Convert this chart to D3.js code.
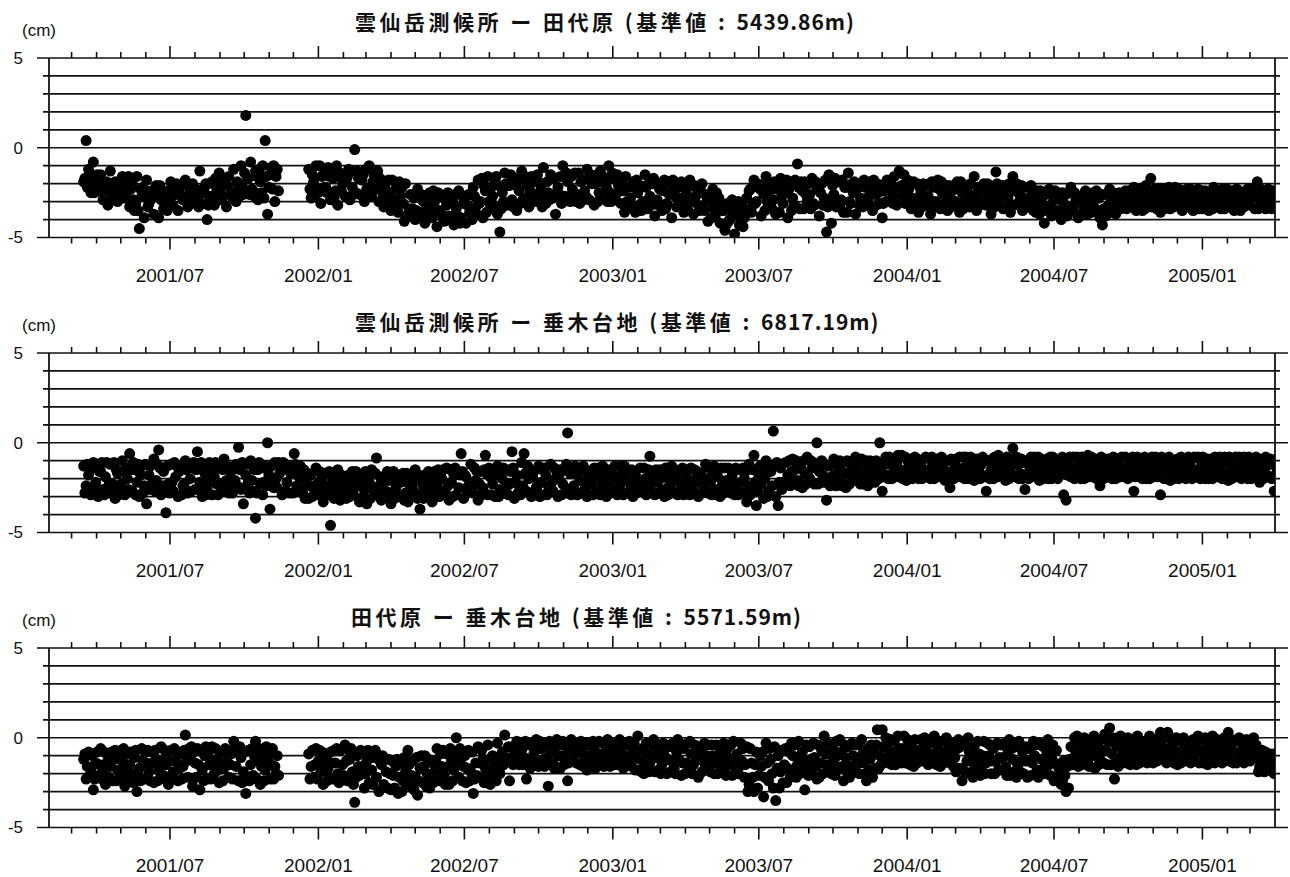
<!DOCTYPE html>
<html>
<head>
<meta charset="utf-8">
<script src="https://cdn.jsdelivr.net/npm/d3@7"></script>
<style>
  body { margin: 0; background: #fff; }
  svg { display: block; }
  text { font-family: 'Liberation Sans', Arial, sans-serif; fill: #111; }
  .title { font-family: 'Noto Sans CJK JP', sans-serif; font-weight: bold; }
</style>
</head>
<body>
<div id="chart"></div>
<script>
// 基線長変化 (cm)。a: 2001/03/16 から 3 日ごと、b: その 1.5 日後
const titleNames = ['雲仙岳測候所 ー 田代原', '雲仙岳測候所 ー 垂木台地', '田代原 ー 垂木台地'];
const baseLengths = ['5439.86m', '6817.19m', '5571.59m'];
const startDate = new Date(2001, 2, 16);
const stepDays = 3;

const unzenTashiroA = [
  -1.9, 0.4, -1.2, -2.5, -0.8, -1.7, -2.3, -1.5, -2.9, -2.0,
  -3.2, -1.3, -2.6, -1.9, -3.0, -2.2, -1.6, -2.8, -2.4, -3.3,
  -2.0, -3.5, -1.6, -4.5, -2.7, -3.9, -1.8, -3.1, -2.4, -3.7,
  -2.1, -3.9, -2.9, -3.4, -2.6, -2.4, -1.9, -3.2, -2.6, -3.5,
  -2.1, -2.9, -1.8, -3.3, -2.5, -2.0, -3.0, -2.6, -1.3, -3.1,
  -2.2, -4.0, -2.7, -1.9, -3.2, -2.4, -1.4, -2.9, -2.0, -3.3,
  -1.6, -2.6, -1.2, -3.0, -2.2, -1.0, -2.6, 1.8, -1.7, -0.8,
  -2.4, -1.3, -2.9, -1.9, -1.0, 0.4, -3.7, -1.5, -2.3, -3.0,
  -1.2, null, null, null, null, null, null, null, null, null,
  null, null, null, -1.2, -2.8, -1.9, -1.0, -2.5, -3.1, -1.5,
  -2.2, -1.1, -2.9, -1.7, -2.4, -3.2, -1.4, -2.0, -2.7, -1.6,
  -2.9, -2.2, -0.1, -1.3, -2.6, -1.8, -3.0, -2.3, -1.0, -2.7,
  -1.5, -2.1, -3.0, -2.0, -3.3, -2.6, -1.8, -3.5, -2.9, -2.3,
  -3.6, -2.7, -3.1, -2.0, -3.8, -2.6, -3.4, -4.0, -2.3, -3.6,
  -2.9, -4.2, -3.3, -2.5, -3.9, -3.0, -4.4, -3.5, -2.7, -4.1,
  -3.2, -3.8, -2.8, -4.3, -3.4, -2.4, -3.9, -3.1, -4.2, -2.6,
  -3.6, -2.2, -3.3, -1.8, -3.0, -3.9, -2.4, -1.6, -3.4, -2.7,
  -2.0, -3.7, -4.7, -2.5, -1.4, -3.2, -2.1, -2.9, -1.7, -3.5,
  -2.4, -1.3, -2.8, -2.0, -3.3, -1.6, -2.6, -3.0, -1.9, -2.3,
  -1.1, -3.1, -2.5, -1.5, -2.8, -3.7, -2.2, -1.6, -1.0, -2.7,
  -1.9, -3.0, -2.3, -1.4, -2.6, -3.1, -1.8, -2.4, -1.2, -2.9,
  -2.0, -3.2, -1.5, -2.5, -1.9, -2.8, -2.2, -1.0, -3.0, -1.7,
  -2.6, -2.1, -3.1, -2.4, -1.6, -3.3, -2.8, -1.9, -3.6, -2.5,
  -2.1, -3.0, -1.5, -3.4, -2.7, -2.0, -3.8, -2.9, -2.3, -3.5,
  -1.8, -3.1, -2.6, -3.9, -2.2, -3.3, -2.8, -1.9, -3.6, -2.5,
  -3.0, -2.1, -3.7, -2.7, -3.2, -2.4, -3.4, -2.6, -4.1, -3.0,
  -2.3, -3.8, -2.9, -4.2, -3.5, -4.6, -3.1, -4.0, -2.9, -4.8,
  -3.6, -4.3, -3.2, -3.9, -2.8, -2.4, -3.6, -1.8, -3.0, -2.2,
  -3.8, -2.6, -1.6, -3.3, -2.0, -2.9, -3.7, -2.3, -1.7, -3.1,
  -2.5, -3.9, -2.1, -2.8, -1.8, -0.9, -3.4, -2.4, -1.9, -3.0,
  -2.6, -1.7, -3.2, -2.3, -3.8, -2.0, -2.8, -4.7, -1.5, -4.2,
  -2.6, -3.3, -1.9, -2.9, -3.6, -2.2, -1.4, -3.1, -2.5, -3.7,
  -2.0, -2.8, -3.3, -2.2, -2.9, -1.9, -3.5, -2.6, -2.0, -3.1,
  -3.9, -2.4, -1.8, -3.0, -2.5, -1.6, -3.2, -1.3, -2.1, -1.5,
  -2.8, -2.3, -3.4, -1.9, -2.9, -3.6, -2.5, -2.0, -3.2, -2.7,
  -3.7, -2.2, -3.0, -1.8, -3.4, -2.6, -2.1, -3.5, -2.8, -2.4,
  -3.1, -1.9, -3.6, -2.5, -3.0, -2.2, -3.3, -2.7, -1.6, -3.5,
  -2.4, -2.9, -2.0, -3.2, -2.6, -3.7, -2.3, -1.35, -3.0, -2.5,
  -3.4, -2.1, -2.8, -3.6, -1.6, -2.4, -3.1, -2.7, -3.5, -2.2,
  -2.9, -3.3, -2.6, -3.0, -2.4, -3.7, -2.8, -4.2, -3.3, -2.3,
  -3.8, -2.9, -3.5, -2.5, -4.0, -3.1, -2.6, -3.6, -2.2, -3.4,
  -2.9, -3.9, -2.7, -3.2, -2.4, -3.7, -3.0, -2.5, -3.5, -2.8,
  -3.9, -4.3, -2.6, -3.3, -2.3, -3.6, -2.9, -3.4, -2.5, -3.1,
  -2.7, -3.4, -2.4, -3.0, -2.2, -3.5, -2.8, -3.2, -2.5, -2.1,
  -3.3, -1.7, -2.6, -3.0, -2.3, -3.6, -2.7, -3.1, -2.4, -3.4,
  -2.9, -2.2, -3.2, -2.6, -3.5, -2.8, -2.3, -3.3, -2.5, -3.0,
  -2.7, -3.4, -2.4, -3.1, -2.8, -3.5, -2.6, -2.2, -3.2, -2.9,
  -3.4, -2.5, -3.0, -2.7, -3.3, -2.4, -3.1, -2.8, -3.5, -2.6,
  -3.0, -2.3, -3.2, -2.7, -3.4, -1.9, -2.9, -3.3, -2.5, -3.1,
  -2.7, -3.4, -2.6, -3.0,
];
const unzenTashiroB = [
  -1.7, -2.2, -1.7, -2.0, -2.5, -1.5, -2.1, -2.4, -2.1, -1.9,
  -2.4, -2.8, -2.4, -2.1, -1.9, -2.8, -2.4, -1.9, -1.6, -2.3,
  -2.9, -3.1, -3.5, -2.3, -2.2, -2.7, -3.3, -2.9, -2.5, -2.7,
  -2.5, -2.1, -2.8, -3.0, -3.5, -3.2, -2.7, -2.2, -2.0, -2.3,
  -2.7, -2.9, -2.7, -2.2, -3.1, -2.7, -2.3, -3.3, -3.1, -2.5,
  -2.0, -3.2, -3.0, -2.0, -1.7, -2.8, -2.5, -2.1, -1.8, -2.1,
  -2.6, -2.8, -2.5, -1.9, -2.7, -2.0, -1.4, -2.4, -2.6, -2.3,
  -2.7, -1.6, -1.2, -2.5, -2.8, -1.6, -2.2, -1.1, -1.0, -1.6,
  -2.4, null, null, null, null, null, null, null, null, null,
  null, null, null, -2.3, -1.5, -2.7, -2.3, -1.0, -1.6, -2.2,
  -2.5, -1.6, -1.4, -2.8, -1.0, -1.6, -2.4, -1.5, -1.8, -1.2,
  -1.3, -2.6, -2.5, -1.7, -1.7, -1.5, -1.2, -2.5, -2.2, -1.9,
  -2.3, -1.3, -1.7, -2.5, -2.1, -3.1, -2.5, -1.8, -3.3, -2.1,
  -1.9, -2.2, -4.1, -3.8, -3.4, -3.7, -2.8, -3.5, -3.8, -2.6,
  -3.0, -2.7, -3.8, -3.5, -2.4, -2.8, -2.5, -3.6, -3.9, -2.9,
  -2.5, -4.0, -3.0, -2.6, -3.8, -4.2, -2.7, -2.9, -3.2, -3.6,
  -4.0, -2.7, -3.7, -3.1, -1.7, -2.1, -3.6, -3.0, -2.2, -3.2,
  -1.6, -2.1, -3.4, -3.0, -2.0, -2.1, -1.5, -3.3, -2.1, -1.7,
  -3.1, -2.9, -1.6, -2.1, -2.4, -2.8, -1.9, -1.5, -2.8, -3.3,
  -2.8, -1.9, -2.9, -2.7, -1.7, -2.5, -2.6, -3.1, -2.7, -1.4,
  -1.5, -1.6, -2.7, -3.0, -1.4, -1.9, -2.9, -2.7, -1.7, -1.5,
  -1.7, -2.0, -3.0, -1.3, -1.6, -1.8, -3.0, -2.5, -1.4, -2.9,
  -1.5, -1.7, -2.0, -3.6, -3.0, -2.2, -3.2, -2.2, -1.8, -3.2,
  -3.5, -3.3, -2.2, -2.0, -3.2, -1.7, -1.9, -3.2, -2.0, -2.4,
  -3.4, -1.9, -2.0, -1.8, -2.7, -2.2, -3.2, -3.0, -2.1, -3.4,
  -1.8, -3.0, -2.1, -2.3, -3.5, -2.0, -3.5, -3.0, -2.7, -3.9,
  -3.4, -2.5, -2.8, -3.1, -3.5, -4.3, -4.1, -3.3, -3.7, -3.3,
  -3.0, -4.0, -4.4, -3.7, -3.5, -2.3, -3.2, -3.1, -2.0, -2.3,
  -2.1, -3.5, -3.0, -2.4, -3.4, -1.9, -2.3, -3.6, -2.7, -2.0,
  -1.8, -2.3, -3.5, -3.2, -3.3, -2.2, -1.9, -3.4, -2.6, -2.0,
  -3.4, -3.1, -1.9, -2.0, -2.5, -3.2, -1.8, -3.3, -2.9, -2.1,
  -1.7, -3.0, -3.3, -1.8, -2.2, -3.6, -3.0, -2.0, -1.9, -2.3,
  -3.2, -2.0, -1.8, -3.1, -2.7, -2.2, -1.8, -3.2, -2.5, -2.1,
  -3.1, -3.0, -2.2, -1.9, -3.1, -2.2, -2.8, -3.0, -2.6, -3.1,
  -1.8, -2.0, -2.8, -3.1, -2.0, -2.2, -3.3, -2.9, -2.1, -2.0,
  -1.9, -3.3, -3.1, -2.3, -1.9, -3.2, -3.0, -2.1, -3.3, -2.1,
  -3.0, -2.2, -1.9, -3.4, -3.2, -2.5, -2.0, -3.2, -2.9, -2.2,
  -3.2, -3.0, -2.3, -2.0, -2.1, -2.8, -3.3, -2.0, -2.3, -2.1,
  -2.6, -3.3, -2.0, -2.3, -3.2, -2.0, -2.2, -2.1, -2.8, -3.3,
  -2.2, -2.1, -3.5, -3.6, -3.2, -2.4, -3.5, -2.6, -3.5, -3.2,
  -2.7, -2.4, -3.7, -2.9, -2.5, -3.4, -3.8, -3.3, -3.5, -2.5,
  -2.7, -2.8, -3.7, -3.5, -3.1, -2.6, -3.6, -3.3, -2.4, -2.8,
  -2.6, -3.4, -3.8, -3.5, -3.0, -2.5, -3.7, -3.3, -3.4, -3.3,
  -2.4, -3.2, -3.3, -3.2, -2.6, -2.4, -2.3, -3.5, -3.4, -3.0,
  -2.5, -3.3, -2.3, -3.4, -2.5, -2.3, -3.4, -3.0, -2.2, -2.5,
  -3.3, -2.8, -2.3, -2.4, -2.5, -3.3, -2.7, -2.3, -3.5, -2.4,
  -2.3, -3.0, -3.4, -2.4, -2.5, -2.9, -3.4, -3.0, -2.4, -2.5,
  -2.3, -3.4, -2.3, -2.5, -3.1, -3.5, -2.3, -2.4, -3.0, -3.3,
  -3.1, -2.5, -2.3, -2.6, -2.5, -3.4, -2.3, -2.6, -3.4, -2.3,
  -2.5, -2.4, -3.3, -2.5,
];

const unzenTarukiA = [
  -1.3, -2.4, -1.8, -2.9, -1.1, -2.2, -3.0, -1.6, -2.6, -1.9,
  -2.8, -1.2, -2.3, -3.1, -1.7, -2.5, -1.0, -2.9, -2.0, -0.6,
  -2.7, -1.5, -2.2, -3.0, -1.3, -2.4, -3.4, -1.8, -2.6, -0.9,
  -2.1, -0.4, -2.9, -1.6, -3.9, -2.3, -1.2, -2.7, -1.9, -3.0,
  -1.5, -2.4, -1.0, -2.8, -2.0, -1.4, -2.6, -0.5, -2.2, -3.0,
  -1.7, -2.5, -1.1, -2.9, -1.9, -2.3, -1.4, -2.7, -0.9, -2.1,
  -2.8, -1.6, -2.4, -1.2, -0.25, -2.6, -3.4, -1.8, -2.2, -1.0,
  -2.7, -4.2, -1.5, -2.3, -2.9, -1.3, 0.0, -3.7, -2.0, -1.1,
  -2.5, -1.7, -2.9, -1.4, -2.2, -2.8, -1.6, -0.6, -2.4, -1.9,
  -2.7, -1.5, -2.2, -3.1, -1.8, -2.5, -1.4, -2.9, -2.1, -3.3,
  -1.7, -2.4, -4.6, -2.0, -2.8, -1.5, -3.2, -2.3, -1.9, -2.7,
  -3.0, -1.6, -2.5, -2.1, -3.3, -1.8, -2.6, -3.4, -2.2, -1.5,
  -2.9, -0.85, -2.4, -3.2, -1.9, -2.7, -2.1, -3.4, -1.6, -2.5,
  -3.0, -2.2, -1.7, -2.8, -3.3, -2.0, -2.6, -1.5, -3.1, -3.7,
  -2.3, -1.8, -2.9, -2.5, -3.3, -1.6, -2.4, -3.0, -2.0, -2.7,
  -1.4, -3.2, -2.2, -1.8, -2.9, -2.5, -0.6, -3.1, -1.9, -2.4,
  -1.2, -2.8, -2.1, -3.2, -1.6, -2.5, -0.7, -2.9, -1.9, -2.3,
  -3.0, -1.3, -2.6, -2.0, -2.8, -1.5, -2.3, -0.5, -3.1, -1.8,
  -2.4, -1.1, -0.6, -2.7, -2.0, -3.0, -1.6, -2.5, -1.3, -2.2,
  -2.9, -1.8, -2.4, -1.2, -2.7, -2.0, -3.0, -1.5, -2.3, -2.8,
  0.55, -1.7, -2.5, -1.3, -2.9, -2.1, -1.6, -2.6, -3.0, -1.9,
  -2.3, -1.4, -2.8, -2.0, -2.5, -1.7, -3.0, -2.2, -1.5, -2.7,
  -1.9, -2.4, -1.3, -2.9, -2.1, -1.6, -2.6, -3.0, -1.8, -2.3,
  -1.4, -2.7, -2.0, -2.5, -0.75, -1.7, -2.9, -2.2, -1.5, -2.6,
  -3.0, -1.9, -2.4, -1.3, -2.8, -2.1, -1.6, -2.5, -2.9, -1.8,
  -2.3, -1.4, -2.7, -2.0, -3.0, -1.7, -2.4, -1.2, -2.8, -2.2,
  -1.6, -2.6, -1.9, -3.0, -2.3, -1.4, -2.7, -2.1, -1.8, -2.9,
  -2.4, -1.5, -2.8, -2.0, -3.3, -1.2, -2.6, -0.7, -3.5, -1.9,
  -2.3, -3.1, -1.0, -2.7, -1.6, 0.65, -3.0, -3.5, -1.4, -2.2,
  -1.1, -1.8, -2.4, -0.9, -1.5, -2.1, -1.2, -2.5, -1.7, -0.8,
  -2.0, -1.4, -2.3, 0.0, -1.6, -1.0, -2.2, -3.2, -1.3, -1.9,
  -0.9, -2.4, -1.5, -2.0, -1.1, -2.5, -1.7, -1.2, -2.1, -0.8,
  -1.6, -2.3, -1.3, -1.9, -2.4, -1.0, -1.7, -2.2, -1.4, 0.0,
  -2.7, -1.2, -1.8, -0.8, -2.0, -1.5, -1.1, -1.9, -0.7, -1.6,
  -2.1, -1.3, -0.9, -1.8, -1.4, -2.0, -1.1, -1.7, -0.8, -1.5,
  -2.0, -1.2, -1.6, -0.9, -1.9, -1.4, -2.1, -1.0, -2.5, -1.6,
  -1.3, -1.9, -0.8, -1.5, -2.0, -1.1, -1.7, -1.4, -2.1, -0.9,
  -1.6, -1.2, -1.9, -2.7, -1.0, -1.5, -2.0, -1.3, -0.7, -1.8,
  -1.4, -2.1, -1.1, -1.6, -0.3, -1.9, -1.2, -1.7, -2.0, -2.6,
  -1.0, -1.5, -1.8, -0.8, -1.4, -2.1, -1.2, -1.7, -0.9, -1.6,
  -2.0, -1.3, -1.8, -1.0, -1.5, -2.9, -3.2, -1.2, -1.9, -0.8,
  -1.6, -1.3, -2.0, -1.1, -1.7, -0.7, -1.4, -1.9, -1.0, -1.6,
  -2.4, -1.2, -1.8, -0.9, -1.5, -2.0, -1.1, -1.7, -1.3, -0.8,
  -1.9, -1.4, -1.0, -1.6, -2.7, -1.2, -1.8, -0.9, -1.5, -2.0,
  -1.1, -1.7, -1.3, -0.8, -1.9, -2.9, -1.4, -1.0, -1.6, -2.1,
  -1.2, -1.8, -0.9, -1.5, -1.9, -1.1, -1.6, -1.3, -2.0, -0.8,
  -1.5, -1.8, -1.1, -1.7, -1.3, -2.0, -0.9, -1.6, -1.2, -1.9,
  -1.4, -1.0, -1.7, -2.1, -1.2, -1.5, -0.8, -1.9, -1.3, -1.6,
  -1.1, -2.0, -1.4, -0.9, -1.7, -1.3, -2.2, -1.0, -1.5, -1.8,
  -1.2, -2.0, -2.7, -1.4,
];
const unzenTarukiB = [
  -2.8, -1.2, -1.5, -2.5, -2.6, -1.2, -1.6, -1.1, -2.9, -1.1,
  -2.3, -2.7, -1.1, -1.5, -2.9, -2.3, -1.6, -1.4, -2.6, -1.5,
  -1.1, -2.9, -1.2, -1.8, -2.8, -1.2, -2.6, -1.3, -2.2, -2.7,
  -1.2, -1.4, -2.4, -2.7, -1.3, -2.8, -2.2, -1.1, -1.3, -1.6,
  -2.9, -2.3, -1.5, -1.3, -2.7, -1.1, -1.5, -2.6, -1.1, -1.4,
  -2.9, -2.1, -1.6, -1.4, -1.1, -2.9, -2.3, -1.5, -2.5, -1.3,
  -1.6, -2.8, -2.1, -2.4, -1.5, -1.1, -2.5, -1.2, -2.8, -2.1,
  -1.5, -2.8, -1.1, -1.4, -2.2, -2.4, -1.8, -1.3, -2.5, -2.0,
  -1.1, -1.5, -1.1, -2.7, -1.3, -1.7, -2.8, -1.2, -1.5, -1.3,
  -2.8, -3.1, -1.7, -2.4, -3.0, -2.9, -2.3, -1.6, -2.0, -2.6,
  -2.9, -1.6, -2.7, -3.1, -2.3, -2.6, -1.8, -2.8, -3.1, -1.8,
  -2.2, -2.9, -1.6, -2.0, -2.2, -3.0, -1.6, -1.9, -3.1, -2.6,
  -1.7, -2.9, -1.9, -2.2, -3.0, -1.6, -1.9, -2.8, -3.1, -2.0,
  -1.8, -3.0, -3.2, -1.7, -2.3, -3.0, -2.8, -2.1, -1.8, -2.8,
  -3.1, -2.2, -1.6, -1.8, -2.0, -2.9, -1.5, -1.8, -1.5, -2.8,
  -2.4, -1.5, -3.0, -1.4, -1.6, -1.8, -1.6, -1.8, -2.8, -2.7,
  -2.5, -1.4, -1.6, -2.3, -2.9, -1.5, -1.7, -1.4, -2.9, -1.6,
  -1.8, -3.0, -1.5, -1.4, -2.5, -2.9, -1.6, -1.4, -2.2, -2.8,
  -2.9, -2.4, -1.7, -1.3, -1.6, -1.9, -2.9, -2.4, -3.0, -1.5,
  -1.4, -2.9, -2.6, -2.2, -1.4, -1.6, -1.8, -2.9, -1.5, -1.2,
  -2.8, -2.9, -2.4, -1.7, -1.6, -2.8, -1.3, -1.5, -2.2, -2.9,
  -2.9, -1.9, -1.4, -2.9, -1.3, -2.3, -1.5, -2.8, -1.9, -1.3,
  -2.9, -2.4, -1.7, -1.3, -2.8, -2.2, -1.5, -2.1, -2.8, -2.6,
  -2.2, -1.4, -2.9, -1.5, -2.7, -2.2, -1.5, -2.8, -2.0, -1.5,
  -1.4, -2.9, -2.5, -1.8, -1.5, -2.9, -2.2, -1.4, -1.7, -2.8,
  -2.9, -2.2, -1.5, -1.6, -2.2, -2.8, -2.6, -2.0, -1.4, -2.9,
  -1.3, -2.9, -1.5, -1.4, -2.8, -2.1, -1.4, -2.8, -2.3, -1.4,
  -2.9, -2.2, -1.4, -1.6, -2.4, -2.9, -1.5, -2.2, -2.7, -1.3,
  -1.5, -2.0, -3.0, -1.3, -2.4, -1.2, -1.1, -2.2, -2.6, -2.3,
  -2.3, -1.0, -1.6, -2.1, -1.0, -2.4, -1.4, -1.0, -2.3, -1.9,
  -1.0, -1.1, -1.2, -2.3, -2.2, -1.8, -1.2, -2.2, -2.4, -2.2,
  -1.8, -1.1, -1.0, -2.4, -1.7, -1.0, -2.3, -1.9, -1.4, -2.1,
  -1.1, -0.9, -2.3, -1.0, -1.6, -2.2, -1.2, -1.0, -2.0, -1.5,
  -1.9, -0.8, -2.0, -1.2, -0.9, -1.9, -0.7, -1.5, -2.0, -0.8,
  -1.0, -1.9, -2.0, -0.8, -0.9, -1.3, -2.0, -1.6, -1.9, -0.9,
  -0.8, -2.0, -1.8, -1.2, -0.8, -1.0, -1.6, -1.9, -0.9, -2.0,
  -0.9, -1.4, -1.9, -0.8, -0.8, -2.0, -0.8, -1.0, -1.5, -2.0,
  -2.0, -0.8, -1.0, -1.8, -2.0, -0.9, -0.8, -1.9, -1.4, -0.9,
  -0.9, -0.8, -2.0, -0.9, -1.1, -0.8, -2.0, -0.9, -1.1, -1.8,
  -2.0, -0.8, -1.3, -1.9, -0.8, -0.9, -2.0, -1.3, -2.0, -0.8,
  -0.8, -1.0, -2.0, -1.8, -0.8, -1.4, -1.8, -0.8, -1.5, -2.0,
  -0.8, -1.6, -0.8, -2.0, -1.2, -1.9, -0.8, -1.4, -2.0, -0.9,
  -0.8, -2.0, -1.4, -1.9, -0.9, -0.8, -2.0, -0.9, -1.9, -1.5,
  -0.8, -2.0, -1.3, -0.8, -1.9, -0.8, -1.4, -2.0, -0.8, -0.9,
  -2.0, -0.8, -1.9, -1.4, -0.9, -0.8, -2.0, -1.4, -0.8, -1.0,
  -2.0, -1.3, -2.0, -0.8, -0.9, -2.0, -0.8, -1.0, -1.5, -1.9,
  -0.8, -2.0, -0.8, -2.0, -0.9, -1.5, -2.0, -0.8, -0.9, -0.8,
  -2.0, -0.8, -1.0, -0.8, -2.0, -1.9, -1.4, -0.8, -2.0, -0.8,
  -1.5, -0.8, -2.0, -1.3, -0.8, -0.9, -1.5, -2.0, -0.8, -1.0,
  -0.9, -1.0, -1.8, -1.1,
];

const tashiroTarukiA = [
  -1.2, -2.3, -0.8, -1.7, -2.9, -1.4, -2.1, -0.6, -1.9, -2.6,
  -1.0, -1.6, -2.4, -0.7, -1.8, -2.2, -1.3, -2.7, -0.9, -1.5,
  -2.0, -1.1, -3.0, -1.7, -0.6, -2.3, -1.4, -1.9, -0.8, -2.5,
  -1.2, -1.8, -0.5, -2.1, -1.5, -2.6, -0.7, -1.9, -1.3, -2.4,
  -0.9, -1.6, 0.15, -2.2, -1.1, -2.7, -1.4, -0.6, -2.9, -1.8,
  -1.0, -2.3, -1.5, -0.5, -2.0, -1.2, -2.5, -0.8, -1.7, -1.3,
  -2.2, -0.9, -0.2, -1.6, -2.4, -1.1, -1.9, -3.1, -0.7, -1.5,
  -2.1, -0.2, -1.3, -2.6, -0.9, -1.8, -1.2, -2.3, -0.6, -1.6,
  -1.0, null, null, null, null, null, null, null, null, null,
  null, null, null, -0.9, -1.6, -2.2, -0.6, -1.3, -1.9, -2.6,
  -1.1, -1.7, -0.8, -2.3, -1.4, -2.0, -0.7, -1.5, -0.4, -2.4,
  -1.2, -1.9, -3.6, -1.0, -2.1, -1.6, -2.8, -1.3, -2.5, -1.8,
  -1.1, -2.2, -3.0, -1.5, -2.6, -1.9, -1.2, -2.9, -2.1, -1.6,
  -3.1, -1.4, -2.4, -1.9, -0.7, -2.7, -1.3, -2.2, -3.2, -1.7,
  -2.5, -1.0, -2.0, -2.8, -1.4, -1.9, -0.6, -2.4, -1.6, -2.1,
  -0.9, -2.6, -1.3, -1.8, 0.0, -2.2, -1.1, -1.6, -2.5, -0.7,
  -1.9, -3.1, -1.4, -0.5, -2.2, -1.2, -1.7, -0.4, -2.6, -1.0,
  -1.5, -0.3, -2.0, -0.8, 0.15, -1.2, -2.4, -0.5, -1.0, -0.2,
  -1.5, -0.7, -1.1, -2.3, -0.4, -1.3, -0.9, -0.1, -1.6, -0.6,
  -1.2, -0.3, -2.7, -0.8, -1.4, -0.5, -1.0, -1.7, -0.2, -1.1,
  -2.4, -0.6, -1.3, -0.9, -0.3, -1.5, -0.7, -1.1, -1.8, -0.4,
  -1.0, -0.6, -1.4, -0.2, -0.9, -1.6, -0.5, -1.2, -0.8, -1.5,
  -0.3, -1.1, -0.7, -1.7, -0.4, -1.0, -1.3, -0.6, -1.8, 0.1,
  -1.2, -0.6, -1.6, -0.9, -1.4, -0.4, -1.9, -1.1, -0.7, -1.5,
  -1.0, -2.0, -0.5, -1.3, -1.7, -0.8, -1.2, -2.1, -0.6, -1.4,
  -1.8, -0.9, -1.5, -1.1, -2.2, -0.7, -1.3, -1.6, -0.4, -1.9,
  -1.0, -1.4, -2.0, -0.8, -1.2, -1.7, -0.6, -1.5, -2.1, -1.1,
  -0.9, -1.6, -1.3, -2.2, -0.5, -2.6, -1.4, -3.0, -0.8, -2.1,
  -1.6, -3.3, -0.3, -2.4, -1.2, -2.8, -3.5, -1.0, -1.9, -2.5,
  -0.6, -1.7, -2.2, -1.0, -0.4, -1.5, -2.0, -0.8, -2.9, -1.3,
  -0.5, -1.8, -1.1, -2.3, -2.2, -0.7, 0.1, -1.5, -0.9, -2.0,
  -1.3, -0.2, -1.7, -0.8, -2.4, -1.1, -0.5, -1.6, -1.0, -1.9,
  -0.4, -1.4, -0.9, -2.0, -0.6, -1.2, -2.2, -1.7, 0.45, -1.0,
  0.45, -1.3, -0.4, -0.9, -1.5, -0.2, -1.1, -0.6, -1.4, 0.1,
  -0.8, -1.2, -0.3, -1.6, -0.7, -1.0, -0.1, -1.3, -0.5, -1.5,
  -0.9, -0.3, -1.2, -0.6, -1.6, -0.2, -1.0, -0.7, -1.4, -0.4,
  -1.1, -0.6, -1.7, -2.4, -0.3, -1.3, -0.8, -1.9, -0.5, -1.2,
  -0.9, -1.6, -0.2, -1.4, -1.0, -2.0, -0.6, -1.3, -1.8, -0.4,
  -1.1, -1.6, -0.7, -2.1, -1.2, -0.5, -1.5, -1.9, -0.8, -1.3,
  -2.2, -0.6, -1.4, -1.0, -1.8, -0.3, -1.2, -2.0, -0.8, -1.5,
  -1.1, -2.4, -0.7, -1.7, -2.6, -1.3, -3.0, -2.8, -0.5, -1.2,
  -0.8, -1.6, -0.3, -1.1, -0.6, -1.4, -0.2, -1.0, -1.7, -0.4,
  -1.2, -0.7, 0.2, -1.5, 0.55, -0.9, -2.3, -1.3, -0.5, -1.0,
  -0.3, -1.4, -0.7, -1.1, -0.1, -1.5, -0.6, -0.9, -1.3, -0.2,
  -1.0, -0.5, -1.4, -0.8, -0.3, 0.3, -1.2, -0.6, 0.3, -1.1,
  -0.4, -0.9, -1.5, -0.2, -1.0, -0.6, -1.3, -0.3, -0.8, -1.2,
  -0.5, -1.4, -0.1, -0.9, -0.6, -1.2, -0.3, -1.0, -0.7, -1.3,
  -0.4, -0.8, -1.1, 0.3, -0.6, -1.4, -0.2, -0.9, -1.2, -0.5,
  -1.0, -0.7, -1.3, -0.4, -1.1, -0.8, -1.6, -0.7, -1.9, -1.2,
  -1.5, -0.9, -2.0, -1.3,
];
const tashiroTarukiB = [
  -0.9, -1.6, -2.1, -1.0, -2.3, -0.8, -1.5, -2.3, -0.8, -1.4,
  -2.2, -0.8, -1.2, -2.4, -0.9, -0.7, -0.6, -1.7, -2.2, -0.8,
  -2.5, -0.7, -2.2, -2.4, -1.3, -0.8, -0.7, -2.4, -1.4, -0.7,
  -2.4, -2.3, -1.3, -0.7, -0.8, -1.3, -2.3, -0.6, -0.8, -1.7,
  -2.3, -0.7, -1.3, -0.6, -0.5, -0.8, -2.2, -1.5, -0.7, -2.4,
  -0.5, -0.8, -2.3, -1.3, -0.6, -1.8, -1.4, -2.4, -0.6, -0.7,
  -1.5, -2.3, -0.6, -0.8, -0.5, -2.5, -0.8, -2.2, -2.4, -0.6,
  -1.0, -2.3, -0.6, -1.6, -2.4, -0.5, -0.7, -1.5, -2.3, -2.0,
  -2.1, null, null, null, null, null, null, null, null, null,
  null, null, null, -2.3, -0.7, -1.5, -2.3, -0.7, -0.8, -1.5,
  -2.4, -2.2, -1.4, -0.7, -0.6, -2.5, -2.2, -2.1, -1.3, -0.7,
  -0.6, -2.6, -2.2, -1.6, -0.7, -0.9, -2.0, -0.7, -1.1, -2.6,
  -0.7, -1.0, -1.3, -1.0, -1.2, -2.8, -2.0, -1.3, -2.8, -1.2,
  -2.2, -3.0, -1.1, -2.6, -1.5, -2.1, -2.9, -1.1, -2.4, -1.0,
  -1.6, -2.7, -1.2, -2.2, -2.5, -1.3, -1.7, -0.9, -0.7, -2.6,
  -1.6, -0.6, -2.4, -0.8, -1.3, -0.6, -2.4, -1.0, -1.7, -2.4,
  -0.8, -2.3, -2.1, -1.4, -0.7, -2.5, -2.2, -1.2, -1.9, -2.3,
  -2.4, -1.3, -1.6, -1.5, -1.3, -0.5, -1.1, -1.5, -1.4, -0.7,
  -0.3, -1.5, -0.2, -1.2, -1.7, -0.3, -1.3, -0.6, -0.2, -1.5,
  -1.6, -1.1, -0.2, -0.4, -1.7, -0.1, -0.4, -1.0, -1.5, -0.5,
  -1.4, -0.1, -0.3, -1.4, -0.8, -0.2, -1.6, -0.3, -1.0, -1.5,
  -0.2, -1.7, -0.9, -1.4, -0.3, -1.0, -0.1, -1.6, -0.4, -0.9,
  -1.5, -0.1, -0.3, -1.1, -1.5, -0.2, -1.6, -0.3, -1.0, -1.8,
  -1.9, -2.0, -0.3, -1.9, -1.0, -0.1, -0.5, -1.8, -2.0, -0.3,
  -0.4, -1.2, -1.9, -0.3, -2.0, -0.1, -0.5, -1.4, -2.0, -0.3,
  -0.2, -2.0, -0.4, -0.5, -1.2, -1.9, -0.3, -1.0, -1.3, -0.4,
  -2.0, -0.4, -1.4, -1.8, -0.3, -2.1, -1.1, -0.4, -0.2, -1.7,
  -2.0, -0.3, -0.6, -1.5, -3.0, -0.6, -2.2, -1.5, -2.8, -1.0,
  -0.8, -2.2, -1.4, -0.6, -2.0, -0.5, -1.7, -2.8, -0.7, -1.5,
  -2.5, -0.8, -0.3, -1.8, -2.2, -0.2, -1.2, -1.7, -0.4, -2.1,
  -1.2, -0.3, -1.6, -0.4, -1.4, -2.0, -0.9, -0.3, -1.5, -0.5,
  -2.1, -1.0, -0.1, -1.6, -0.4, -1.9, -2.2, -0.3, -0.4, -1.2,
  -2.0, -0.1, -1.4, -2.4, -1.8, -0.4, -0.8, -0.4, -1.7, -1.5,
  -0.5, 0.0, -1.4, -0.1, -0.8, -1.5, 0.1, -1.0, -0.6, -1.4,
  -0.1, -1.5, -0.8, -0.1, -1.4, -1.2, -0.6, 0.0, -1.0, -0.2,
  -1.4, 0.1, -1.5, -0.2, -0.9, -1.4, 0.0, -0.2, -0.9, -1.6,
  -1.9, -0.1, -0.5, -1.8, -2.0, 0.0, -1.3, -2.2, -1.7, -0.2,
  -2.1, -1.0, -2.0, -0.3, -0.4, -1.3, -2.0, -0.3, -1.1, -1.8,
  -0.3, -2.1, -0.1, -0.6, -1.9, -2.2, -0.2, -1.3, -2.0, -0.5,
  -1.3, -2.1, -0.2, -0.4, -2.2, -1.8, -0.5, -1.5, -0.1, -2.1,
  -0.4, -1.4, -2.2, -1.5, -2.4, -2.1, -1.6, -1.2, -1.5, 0.0,
  0.1, -0.9, -1.5, 0.0, -1.0, -1.6, -0.6, 0.1, -1.0, -1.5,
  -0.1, -1.4, -0.7, -0.2, -1.5, 0.0, -0.4, -1.6, 0.1, -1.4,
  -0.8, 0.0, -1.5, -0.5, -1.0, 0.1, -1.4, -0.2, -0.7, -1.4,
  0.1, -0.9, -0.1, -1.3, -1.0, -0.5, 0.0, -1.4, -0.8, -0.1,
  -1.4, 0.0, -0.8, -1.4, 0.0, -0.2, -0.8, -1.4, -0.1, -0.6,
  0.1, -0.8, -1.4, 0.0, -1.5, -0.7, 0.1, -1.4, -0.1, -0.8,
  -1.4, 0.0, -0.4, -1.3, -0.1, -0.8, -1.4, 0.0, -0.8, -1.4,
  -0.1, -0.3, -0.9, 0.0, -0.4, -1.9, -1.2, -1.5, -0.8, -1.8,
  -1.7, -1.4, -0.9, -1.7,
];

const series = [
  [unzenTashiroA, unzenTashiroB],
  [unzenTarukiA, unzenTarukiB],
  [tashiroTarukiA, tashiroTarukiB],
];
const yGrid = [5, 4, 3, 2, 1, 0, -1, -2, -3, -4, -5];
const yLabels = [5, 0, -5];
const xDomain = [new Date(2001, 1, 1), new Date(2005, 3, 1)];

const W = 1290, H = 877;
const left = 49, right = 1275, plotH = 179.5;
const panelTops = [58, 353, 648];
const titleY = [22, 322, 617];
const titleX = [355, 355, 351];

const svg = d3.select('#chart').append('svg')
  .attr('width', W)
  .attr('height', H);

const x = d3.scaleTime().domain(xDomain).range([left, right]);
const y = d3.scaleLinear().domain([-5, 5]).range([plotH, 0]);
const isMajor = d => d.getMonth() === 0 || d.getMonth() === 6;
const months = d3.timeMonth.range(d3.timeDay.offset(xDomain[0], 1), xDomain[1]);

svg.append('defs').append('clipPath')
  .attr('id', 'plot-clip')
  .append('rect')
  .attr('x', left)
  .attr('y', 0)
  .attr('width', right - left)
  .attr('height', plotH);

series.forEach(([valuesA, valuesB], p) => {
  const g = svg.append('g')
    .attr('transform', `translate(0,${panelTops[p]})`);

  /* 横線 (5, 0, -5 は両側に長く出す) */
  g.append('g').selectAll('line')
    .data(yGrid)
    .enter().append('line')
    .attr('x1', d => yLabels.includes(d) ? left - 12 : left - 6)
    .attr('x2', d => yLabels.includes(d) ? right + 13 : right + 5)
    .attr('y1', d => y(d))
    .attr('y2', d => y(d))
    .style('stroke', '#111')
    .style('stroke-width', 1.7);

  // 縦軸
  g.selectAll('.vaxis')
    .data([left, right])
    .enter().append('line')
    .attr('x1', d => d).attr('x2', d => d)
    .attr('y1', y(5)).attr('y2', y(-5))
    .style('stroke', '#111')
    .style('stroke-width', 1.8);

  /* 月目盛 上下 */
  g.append('g').selectAll('line')
    .data(months)
    .enter().append('line')
    .attr('x1', d => x(d)).attr('x2', d => x(d))
    .attr('y1', d => y(5) - (isMajor(d) ? 12 : 6))
    .attr('y2', y(5))
    .style('stroke', '#111')
    .style('stroke-width', 1.6);
  g.append('g').selectAll('line')
    .data(months)
    .enter().append('line')
    .attr('x1', d => x(d)).attr('x2', d => x(d))
    .attr('y1', y(-5))
    .attr('y2', d => y(-5) + (isMajor(d) ? 12 : 6))
    .style('stroke', '#111')
    .style('stroke-width', 1.6);

  g.append('g').selectAll('text')
    .data(months.filter(isMajor))
    .enter().append('text')
    .attr('x', d => x(d))
    .attr('y', y(-5) + 38)
    .attr('dy', '0.35em')
    .style('text-anchor', 'middle')
    .style('font-size', '19px')
    .text(d3.timeFormat('%Y/%m'));

  g.append('g').selectAll('text')
    .data(yLabels)
    .enter().append('text')
    .attr('x', 23)
    .attr('y', d => y(d))
    .attr('dy', '0.35em')
    .style('text-anchor', 'end')
    .style('font-size', '17px')
    .text(d => d);

  g.append('text')
    .attr('x', 22)
    .attr('y', -28)
    .attr('dy', '0.35em')
    .style('font-size', '17px')
    .text('(cm)');

  // タイトル: 漢字部分は字間を広めに
  const title = svg.append('text')
    .attr('class', 'title')
    .attr('x', titleX[p])
    .attr('y', titleY[p])
    .attr('dy', '0.36em')
    .style('font-size', '21px');
  title.append('tspan')
    .style('letter-spacing', '3.5px')
    .text(`${titleNames[p]} (基準値 : `);
  title.append('tspan')
    .style('letter-spacing', '1px')
    .text(`${baseLengths[p]})`);

  /* 点 (a と b を合わせて描く) */
  const toPoints = (values, shiftHours) => values
    .map((v, i) => ({
      date: d3.timeHour.offset(startDate, i * stepDays * 24 + shiftHours),
      value: v,
    }))
    .filter(d => d.value !== null);
  const pts = toPoints(valuesA, 0).concat(toPoints(valuesB, 36));

  g.append('g')
    .attr('clip-path', 'url(#plot-clip)')
    .selectAll('circle')
    .data(pts)
    .enter().append('circle')
    .attr('cx', d => x(d.date))
    .attr('cy', d => y(d.value))
    .attr('r', 5.5)
    .style('fill', '#000');
});
</script>
</body>
</html>
